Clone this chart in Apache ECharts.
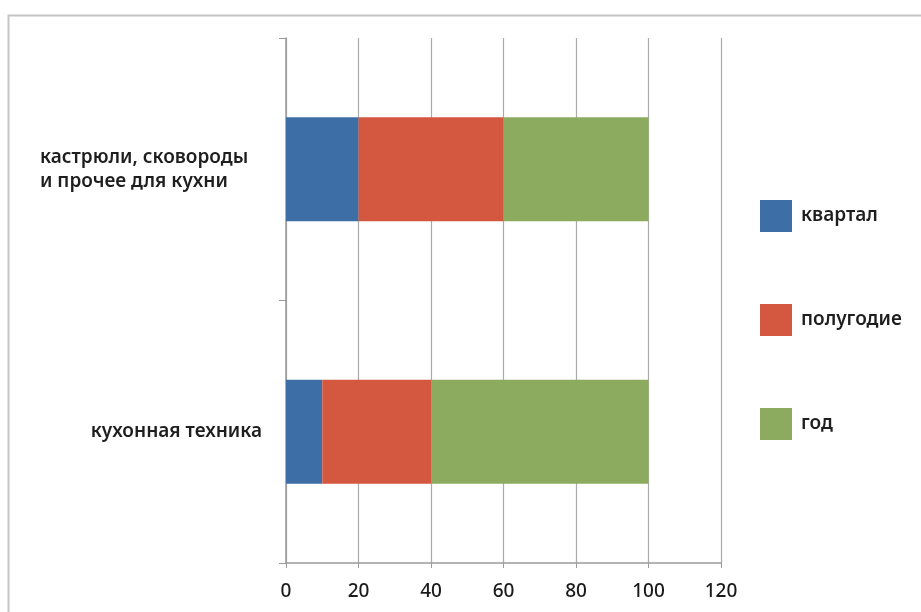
<!DOCTYPE html>
<html>
<head>
<meta charset="utf-8">
<script src="https://cdn.jsdelivr.net/npm/echarts@6/dist/echarts.min.js"></script>
<style>
  html, body { margin: 0; padding: 0; background: #ffffff; }
  #chart { width: 921px; height: 612px; }
</style>
</head>
<body>
<div id="chart"></div>
<script>
// Categories, bottom to top
const categories = ['кухонная техника', 'кастрюли, сковороды\nи прочее для кухни'];
const seriesNames = ['квартал', 'полугодие', 'год'];
const quarterValues = [10, 20];
const halfYearValues = [30, 40];
const yearValues = [60, 40];
const xTicks = [0, 20, 40, 60, 80, 100, 120];

const colors = ['#3d6fa6', '#d4573f', '#8cab5e'];
const font = 'Noto Sans';
const labelStyle = { fontFamily: font, fontSize: 19, fontWeight: 600, color: '#1e1e1e', lineHeight: 24 };

const chart = echarts.init(document.getElementById('chart'), null, { renderer: 'canvas' });

const valuesBySeries = [quarterValues, halfYearValues, yearValues];

chart.setOption({
  animation: false,
  backgroundColor: '#ffffff',
  graphic: [{
    type: 'rect',
    left: 6, top: 13,
    shape: { width: 1000, height: 700 },
    style: { fill: 'none', stroke: '#c4c4c4', lineWidth: 2 },
    z: 0
  }],
  grid: { left: 286, right: 200, top: 38, bottom: 49, containLabel: false },
  legend: {
    orient: 'vertical',
    left: 755,
    top: 195,
    itemWidth: 32,
    itemHeight: 32,
    itemGap: 72,
    icon: 'rect',
    data: seriesNames,
    textStyle: { fontFamily: font, fontSize: 19, fontWeight: 600, color: '#1e1e1e', padding: [0, 0, 0, 4] }
  },
  xAxis: {
    type: 'value',
    min: xTicks[0],
    max: xTicks[xTicks.length - 1],
    interval: 20,
    axisLine: { show: true, lineStyle: { color: '#9a9a9a', width: 1.5 } },
    axisTick: { show: true, length: 5, lineStyle: { color: '#9a9a9a' } },
    splitLine: { show: true, lineStyle: { color: '#aaaaaa', width: 1.2 } },
    axisLabel: { margin: 19, fontFamily: font, fontSize: 19, fontWeight: 500, color: '#1a1a1a' }
  },
  yAxis: {
    type: 'category',
    data: categories,
    axisLine: { show: true, lineStyle: { color: '#9a9a9a', width: 1.5 } },
    axisTick: { show: true, length: 7, lineStyle: { color: '#9a9a9a' } },
    axisLabel: {
      margin: 24,
      // multi-line labels keep their lines flush left inside a fixed-width box
      formatter: v => {
        const lines = v.split('\n');
        const key = lines.length > 1 ? 'm' : 's';
        return lines.map(l => '{' + key + '|' + l + '}').join('\n');
      },
      rich: {
        m: Object.assign({ width: 222, align: 'left' }, labelStyle),
        s: Object.assign({}, labelStyle)
      }
    }
  },
  series: seriesNames.map((name, i) => ({
    name: name,
    type: 'bar',
    stack: 'total',
    barWidth: 104,
    itemStyle: { color: colors[i] },
    data: valuesBySeries[i]
  }))
});
</script>
</body>
</html>
